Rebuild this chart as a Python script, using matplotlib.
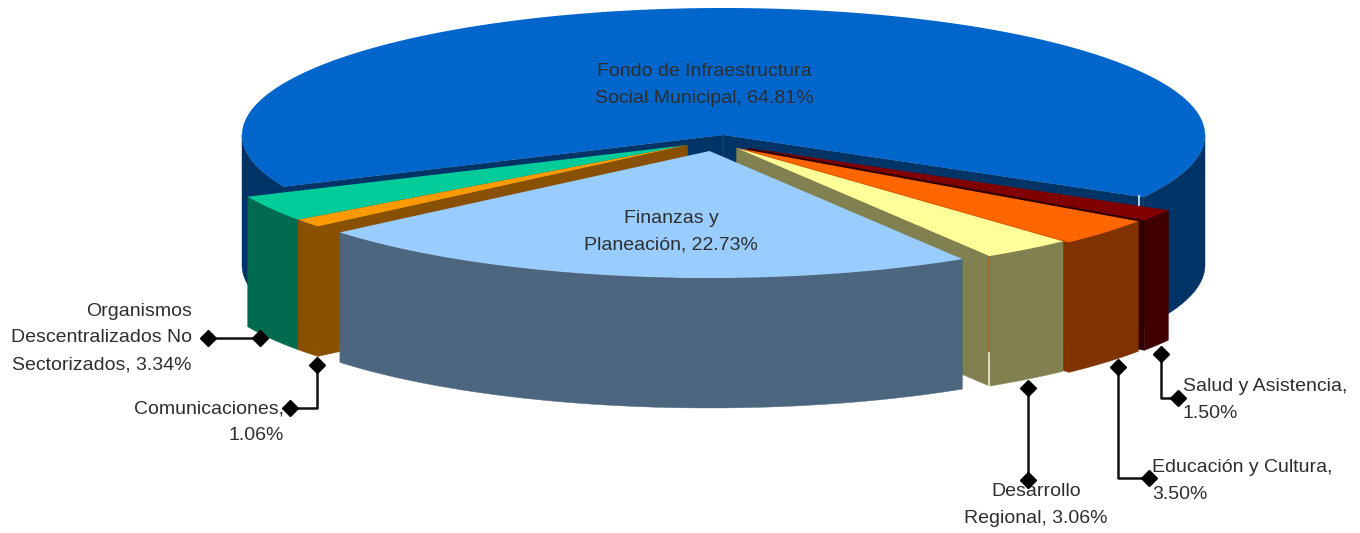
import numpy as np
import matplotlib
matplotlib.use("Agg")
import matplotlib.pyplot as plt

plt.rcParams['font.family'] = ['Liberation Sans', 'DejaVu Sans']

# clockwise from the right end of the big blue slice
names = ["Salud y Asistencia,\n", "Educación y Cultura,\n", "Desarrollo\nRegional, ",
         "Finanzas y\nPlaneación, ", "Comunicaciones,\n",
         "Organismos\nDescentralizados No\nSectorizados, ",
         "Fondo de Infraestructura\nSocial Municipal, "]
shares = [1.50, 3.50, 3.06, 22.73, 1.06, 3.34, 64.81]

top_colors = ["#800000", "#FF6600", "#FFFF99", "#99CCFF", "#FF9900", "#00CC99", "#0066CC"]
side_colors = ["#400000", "#803300", "#808050", "#4C6680", "#885000", "#006B4F", "#003366"]
cut_colors = ["#300000", "#803300", "#808050", None, "#885000", "#006B4F", "#003366"]

# pie geometry in pixels
cx, cy, rx, ry = 723.5, 135, 481.5, 127
depth = 130
start = -29.3
offsets = [(25, 13), (19, 14), (13, 13), (-14, 16), (-36, 10), (-36, 10), (0, 0)]

# label placement: x, y of the text, alignment
label_pos = [(1183, 400, "left"), (1152, 481, "left"), (1036, 505, "center"),
             (671, 232, "center"), (284, 422, "right"), (192, 338, "right"), (704, 85, "center")]
leaders = [[(1161, 354), (1161, 398), (1178, 398)],
           [(1118, 367), (1118, 478), (1149, 478)],
           [(1028, 388), (1028, 480)],
           None,
           [(317, 365), (317, 408), (290, 408)],
           [(260, 338), (208, 338)],
           None]


def rim(t0, t1, off, n=80):
    t = np.radians(np.linspace(t0, t1, n))
    return cx + off[0] + rx * np.cos(t), cy + off[1] - ry * np.sin(t)


def draw_top(t0, t1, off, color):
    x, y = rim(t0, t1, off, 240)
    ax.fill(np.r_[cx + off[0], x], np.r_[cy + off[1], y], color=color, lw=0)


def draw_wall(t0, t1, off, color):
    x, y = rim(t0, t1, off)
    ax.fill(np.r_[x, x[::-1]], np.r_[y, y[::-1] + depth], color=color, lw=0.3)


def draw_cut(t, off, color):
    x, y = rim(t, t, off, 1)
    ax0, ay0 = cx + off[0], cy + off[1]
    ax.fill([ax0, x[0], x[0], ax0], [ay0, y[0], y[0] + depth, ay0 + depth], color=color, lw=0.3)


fig = plt.figure(figsize=(13.6, 5.33), dpi=100)
ax = fig.add_axes([0, 0, 1, 1])
ax.set_xlim(0, 1360)
ax.set_ylim(533, 0)
ax.axis("off")

spans = np.array(shares) * 3.6
ends = start - np.cumsum(spans)
starts = ends + spans

# blue one goes first, it sits at the back
draw_cut(start, offsets[6], side_colors[6])
draw_cut(starts[6], offsets[6], side_colors[6])
draw_wall(start, 0, offsets[6], side_colors[6])
draw_wall(-180, starts[6], offsets[6], side_colors[6])
draw_top(starts[6], ends[6], offsets[6], top_colors[6])

# white sliver at the blue edge
ex, ey = rim(start, start, offsets[6], 1)
ax.plot([ex[0] - 4, ex[0] - 4], [ey[0] - 1, ey[0] + 8], color="#E8EEF4", lw=1.2)

# right hand slices show the lower cut, left hand ones the upper cut
for i in [0, 1, 2, 5, 4, 3]:
    if cut_colors[i] is not None:
        draw_cut(ends[i] if i < 3 else starts[i], offsets[i], cut_colors[i])
    draw_wall(starts[i], ends[i], offsets[i], side_colors[i])
    draw_top(starts[i], ends[i], offsets[i], top_colors[i])
    if i == 1:
        # no dark band between orange and yellow on top
        ox, oy = rim(ends[1], ends[1], offsets[1], 1)
        yx, yy = rim(ends[1], ends[1], offsets[2], 1)
        ax.fill([cx + offsets[1][0], ox[0], yx[0], cx + offsets[2][0]],
                [cy + offsets[1][1], oy[0], yy[0], cy + offsets[2][1]],
                color=top_colors[1], lw=0)
    if i == 2:
        # seam on the corner of the olive slice
        ex, ey = rim(ends[i], ends[i], offsets[i], 1)
        ax.plot([ex[0], ex[0]], [ey[0] + 2, ey[0] + 97], color="#B06A20", lw=1.2)
        ax.plot([ex[0], ex[0]], [ey[0] + 97, ey[0] + depth], color="#F0EBD0", lw=1.2)

for name, v, pos, lead in zip(names, shares, label_pos, leaders):
    ax.text(pos[0], pos[1], f"{name}{v:.2f}%", ha=pos[2], va="center", fontsize=14,
            color="#2E2E2E", linespacing=1.75, zorder=5)
    if lead is not None:
        xs, ys = zip(*lead)
        ax.plot(xs, ys, color="#111111", lw=1.8, zorder=6)
        ax.plot([xs[0], xs[-1]], [ys[0], ys[-1]], ls="none", marker="D", ms=8.5,
                color="black", zorder=7)

fig.savefig("out.png", dpi=100)
